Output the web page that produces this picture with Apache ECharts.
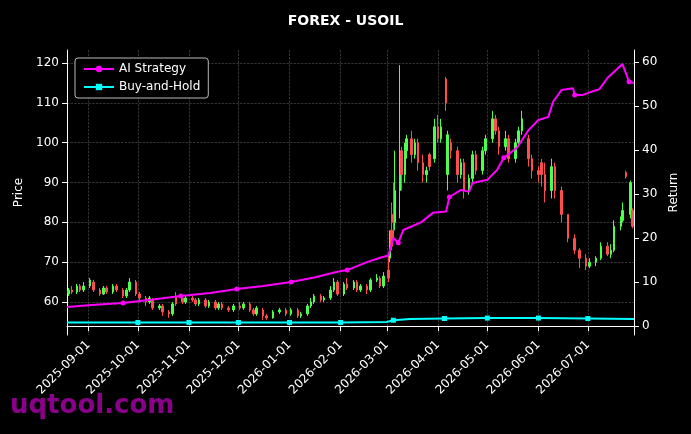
<!DOCTYPE html>
<html><head><meta charset="utf-8">
<script src="https://cdn.jsdelivr.net/npm/echarts@6/dist/echarts.min.js"></script>
<style>html,body{margin:0;background:#000}#c{width:691px;height:434px}</style>
</head><body><div id="c"></div>
<script>
// candles: date open close low high
const candles = `2025-08-20 62 63 61.5 63.5
2025-08-22 63 62.5 62 64
2025-08-25 62.5 64 62 64.5
2025-08-27 64 63 62.5 64.5
2025-08-29 63 64 62.5 65
2025-09-02 64 65.5 63.5 66
2025-09-04 65 63 62.5 65.5
2025-09-08 63 62 61.5 63.5
2025-09-10 62 63.5 61.8 64
2025-09-12 63.5 62.5 62 64
2025-09-16 62.5 64 62 64.5
2025-09-18 64 63 62.5 64.5
2025-09-22 63 61.5 61 63.5
2025-09-24 61.5 63 61 63.5
2025-09-26 63 65 62.5 66
2025-09-30 65 62 61.5 65.5
2025-10-02 62 61 60 62.5
2025-10-06 61 60 59 61.5
2025-10-08 60 61 59.5 61.5
2025-10-10 60.5 58.5 58 61
2025-10-14 58.5 59 58 59.5
2025-10-16 59 57.5 56.5 59.5
2025-10-20 57.5 57 56 58
2025-10-22 57 59.5 56.5 60
2025-10-24 61.5 59.5 59 62.5
2025-10-28 61 60 59.5 61.5
2025-10-30 60 61 59.5 61.5
2025-11-03 61 60.5 60 61.5
2025-11-05 60.5 59.5 59 61
2025-11-07 59.5 60.5 59 61
2025-11-11 60.5 59 58.5 61
2025-11-13 59 60 58.5 60.5
2025-11-17 60 58.5 58 60.5
2025-11-19 58.5 59.5 58 60
2025-11-21 59.5 58.5 58 60
2025-11-25 58.5 58 57.5 59
2025-11-28 58 59 57.5 59.5
2025-12-02 59 58.5 58 60
2025-12-04 58.5 59.5 58 60
2025-12-08 59.5 58 57.5 60
2025-12-10 58 57 56.5 58.5
2025-12-12 57 58.5 56.5 59
2025-12-16 58 56.5 55.5 58.5
2025-12-18 56.5 56 55.5 57
2025-12-22 56 57.5 55.8 58
2025-12-26 57.5 58 57 58.5
2025-12-30 58 57 56.5 58.5
2026-01-02 57 58 56.5 58.5
2026-01-06 58 56.5 56 58.5
2026-01-08 56.5 57 56 57.5
2026-01-12 57 59 56.5 59.5
2026-01-14 59 60 58.5 61
2026-01-16 60 61.5 59.5 62
2026-01-20 61.5 60.5 60 62
2026-01-22 60.5 61 60 61.5
2026-01-26 61 63 60.5 64
2026-01-28 63 65 62.5 66
2026-01-30 65 62 61.5 65.5
2026-02-03 62 64.5 61.5 65
2026-02-05 64.5 63.5 63 66
2026-02-09 63.5 65 63 65.5
2026-02-11 65 63 62.5 65.5
2026-02-13 63 64 62.5 64.5
2026-02-17 64 63 62 64.5
2026-02-19 63 65.5 62.5 66
2026-02-23 65.5 66 65 67
2026-02-25 66 64 63.5 66.5
2026-02-27 64 66.5 63.5 67.5
2026-03-02 68 66 65 72
2026-03-03 71 75 70 78
2026-03-04 78 74 73 85
2026-03-05 82 80 76 90
2026-03-06 80 88 78 98
2026-03-09 88 95 81 119.5
2026-03-10 98 92 88 99
2026-03-12 92 98 90 100
2026-03-13 98 101 96 102
2026-03-16 101 97 95 103
2026-03-18 97 100 96 101
2026-03-20 100 95 93 101
2026-03-23 95 92 90 97
2026-03-25 92 93 90 94
2026-03-27 97 94 93 97.5
2026-03-30 96 104 95 106
2026-04-01 104 101 100 107
2026-04-03 101 104 100 106
2026-04-06 116 110 108 116.5
2026-04-07 92 102 88 103
2026-04-09 100 98 96 101
2026-04-13 98 92 90 99
2026-04-15 92 95 91 96
2026-04-17 95 88 86 96
2026-04-20 88 91 87 92
2026-04-22 91 97 90 98
2026-04-24 97 93 92 98
2026-04-28 93 98 92 99
2026-04-30 98 101 97 102
2026-05-04 101 106 100 108
2026-05-06 106 103 102 107
2026-05-08 103 99 97 104
2026-05-12 99 101 98 103
2026-05-14 101 96 95 102
2026-05-18 96 100 95 101
2026-05-20 100 103 99 104
2026-05-22 103 106 102 108
2026-05-26 101 96 94 102
2026-05-28 96 93 91 97
2026-06-01 93 92 90 94
2026-06-03 95 92 89 96
2026-06-05 92 88 85 95
2026-06-09 88 94 86 96
2026-06-11 94 88 86 95
2026-06-15 88 82 80 89
2026-06-19 82 76 75 82
2026-06-23 76 73 72 77
2026-06-26 73 71 68.5 73.5
2026-06-30 71 69 68 72
2026-07-02 69 70 68.5 71
2026-07-06 70 71 69 71.5
2026-07-09 71 74 70.5 75
2026-07-13 74 72 71.5 75
2026-07-15 72 73 71 74.5
2026-07-17 73 79 72.5 80.5
2026-07-21 79 80.5 78 81.5
2026-07-22 80.5 83 80 85
2026-07-24 92.5 91.5 91 93
2026-07-27 82 90 81 90.5
2026-07-28 83 79 78.5 83.5`;

const aiDates = ['2025-08-19','2025-09-05','2025-09-22','2025-10-10','2025-10-27','2025-11-14','2025-11-30','2025-12-16','2026-01-02','2026-01-16','2026-01-30','2026-02-05','2026-02-17','2026-02-25','2026-03-02','2026-03-05','2026-03-08','2026-03-11','2026-03-16','2026-03-22','2026-03-29','2026-04-06','2026-04-08','2026-04-15','2026-04-20','2026-04-22','2026-05-01','2026-05-07','2026-05-11','2026-05-19','2026-05-26','2026-06-01','2026-06-07','2026-06-10','2026-06-15','2026-06-22','2026-06-23','2026-06-28','2026-07-03','2026-07-08','2026-07-13','2026-07-22','2026-07-26','2026-07-29'];
const aiValues = [4.3,4.8,5.2,6.0,6.8,7.5,8.4,9.1,10,11,12.3,12.7,14.5,15.5,16,20,18.9,21.8,22.6,23.6,25.7,26,29.3,30.9,30.5,32.5,33.2,35.5,38.2,40.5,44.5,46.8,47.5,51,53.6,54,52.5,52.5,53.2,53.8,56.4,59.5,55.5,55.2];
const aiMarkers = ['2025-09-22','2025-10-27','2025-11-30','2026-01-02','2026-02-05','2026-03-08','2026-04-08','2026-05-11','2026-06-23','2026-07-26'];

const bhDates = ['2025-08-19','2025-10-01','2025-11-01','2025-12-01','2026-01-01','2026-02-01','2026-03-01','2026-03-05','2026-03-15','2026-04-05','2026-05-01','2026-06-01','2026-07-01','2026-07-29'];
const bhValues = [0.8,0.8,0.8,0.8,0.8,0.8,0.9,1.3,1.6,1.7,1.8,1.8,1.7,1.6];
const bhMarkers = ['2025-10-01','2025-11-01','2025-12-01','2026-01-01','2026-02-01','2026-03-05','2026-04-05','2026-05-01','2026-06-01','2026-07-01'];

const monthTicks = ['2025-09-01','2025-10-01','2025-11-01','2025-12-01','2026-01-01','2026-02-01','2026-03-01','2026-04-01','2026-05-01','2026-06-01','2026-07-01'];
const priceTicks = [60,70,80,90,100,110,120];
const returnTicks = [0,10,20,30,40,50,60];

const rows = candles.split('\n').map(l => l.trim().split(/\s+/));
const ts = d => new Date(d + 'T00:00:00Z').getTime();
const candleData = rows.map(r => [ts(r[0]), +r[1], +r[2], +r[3], +r[4]]);
const aiData = aiDates.map((d, i) => [ts(d), aiValues[i]]);
const bhData = bhDates.map((d, i) => [ts(d), bhValues[i]]);
const aiM = new Set(aiMarkers.map(ts)), bhM = new Set(bhMarkers.map(ts));
const fmt = v => { const d = new Date(v); return d.getUTCFullYear() + '-' + String(d.getUTCMonth()+1).padStart(2,'0') + '-' + String(d.getUTCDate()).padStart(2,'0'); };
const grey = '#555';
const chart = echarts.init(document.getElementById('c'));
chart.setOption({
  backgroundColor: '#000',
  animation: false,
  textStyle: { fontFamily: 'DejaVu Sans' },
  title: { text: 'FOREX - USOIL', left: 'center', top: 9, textStyle: { color: '#fff', fontSize: 14, fontWeight: 'bold', fontFamily: 'DejaVu Sans' } },
  legend: {
    left: 75, top: 58, orient: 'vertical', itemGap: 6, itemWidth: 30, itemHeight: 8,
    backgroundColor: '#000', borderColor: '#bbb', borderWidth: 1, borderRadius: 3, padding: [5, 8],
    textStyle: { color: '#fff', fontSize: 12 },
    data: ['AI Strategy', 'Buy-and-Hold']
  },
  grid: { left: 67, right: 57, top: 50, bottom: 99 },
  xAxis: {
    type: 'value', min: ts('2025-08-19'), max: ts('2026-07-29'),
    axisLine: { lineStyle: { color: '#fff' } },
    axisTick: { show: true, customValues: monthTicks.map(ts), lineStyle: { color: '#fff' } },
    axisLabel: { customValues: monthTicks.map(ts), formatter: v => fmt(v), rotate: 45, color: '#fff', fontSize: 12 },
    splitLine: { show: true, lineStyle: { color: grey, type: 'dashed', width: 0.6 } }
  },
  yAxis: [{
    type: 'value', min: 51.7, max: 123.3, name: 'Price', nameLocation: 'middle', nameGap: 42,
    nameTextStyle: { color: '#fff', fontSize: 12 },
    axisLine: { show: true, lineStyle: { color: '#fff' } },
    axisTick: { show: true, customValues: priceTicks, lineStyle: { color: '#fff' } },
    axisLabel: { customValues: priceTicks, color: '#fff', fontSize: 12 },
    splitLine: { show: true, lineStyle: { color: grey, type: 'dashed', width: 0.6 } }
  }, {
    type: 'value', min: -2.05, max: 62.7, name: 'Return', nameLocation: 'middle', nameGap: 34,
    nameTextStyle: { color: '#fff', fontSize: 12 },
    axisLine: { show: true, lineStyle: { color: '#fff' } },
    axisTick: { show: true, customValues: returnTicks, lineStyle: { color: '#fff' } },
    axisLabel: { customValues: returnTicks, color: '#fff', fontSize: 12 },
    splitLine: { show: false }
  }],
  series: [{
    type: 'candlestick', yAxisIndex: 0, barWidth: 2, data: candleData,
    itemStyle: { color: '#4cff4c', color0: '#ff4d4d', borderColor: '#4cff4c', borderColor0: '#ff4d4d', borderWidth: 1 }
  }, {
    name: 'AI Strategy', type: 'line', yAxisIndex: 1, data: aiData, showAllSymbol: true, symbol: 'circle',
    symbolSize: (v) => aiM.has(v[0]) ? 5 : 0,
    lineStyle: { color: '#ff00ff', width: 2 }, itemStyle: { color: '#ff00ff' }
  }, {
    name: 'Buy-and-Hold', type: 'line', yAxisIndex: 1, data: bhData, showAllSymbol: true, symbol: 'rect',
    symbolSize: (v) => bhM.has(v[0]) ? 5 : 0,
    lineStyle: { color: '#00ffff', width: 2 }, itemStyle: { color: '#00ffff' }
  }],
  graphic: [{ type: 'text', left: 10, top: 393, style: { text: 'uqtool.com', fill: '#8b008b', font: 'bold 26px DejaVu Sans' } }]
});
</script></body></html>
